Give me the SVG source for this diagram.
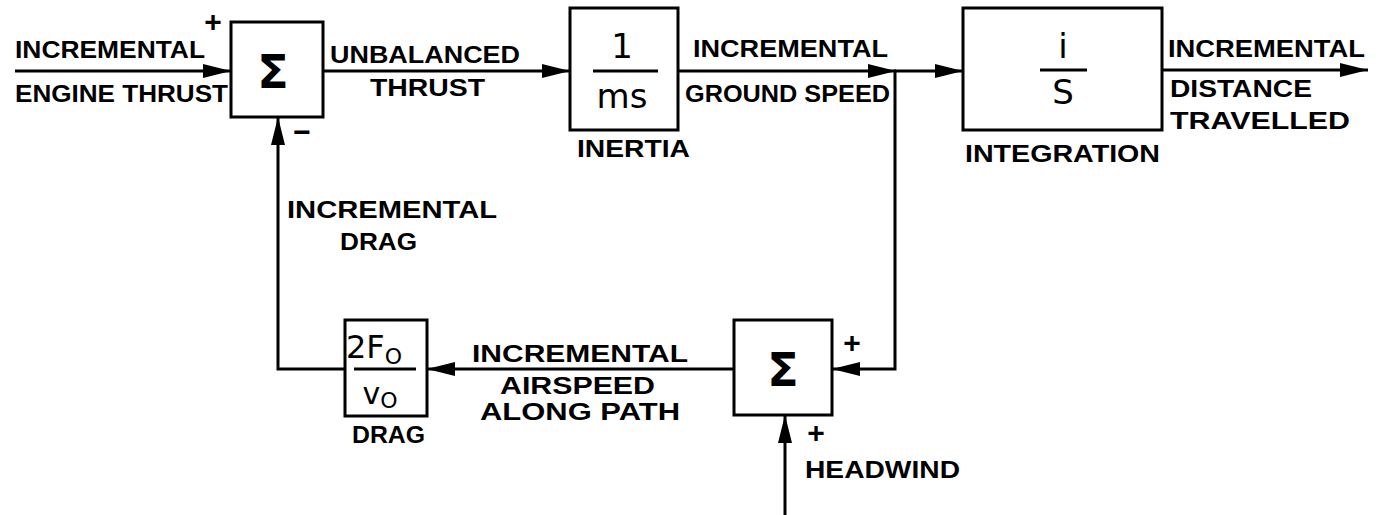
<svg xmlns="http://www.w3.org/2000/svg" width="1383" height="515" viewBox="0 0 1383 515">
<defs>
<marker id="arr" markerUnits="userSpaceOnUse" markerWidth="30" markerHeight="18" refX="28" refY="8" orient="auto">
<path d="M0,1 L28,8 L0,15 Z" fill="#000"/>
</marker>
<style>
.box{fill:#fff;stroke:#000;stroke-width:3}
.ln{fill:none;stroke:#000;stroke-width:3}
.t{font-family:"Liberation Sans","DejaVu Sans",sans-serif;font-weight:bold;font-size:24px;fill:#000}
.big{font-family:"DejaVu Sans","Liberation Sans",sans-serif;font-size:34px;fill:#000;text-anchor:middle}
.sg{font-family:"DejaVu Sans","Liberation Sans",sans-serif;font-weight:bold;font-size:46px;fill:#000;text-anchor:middle}
.pm{font-family:"Liberation Sans",sans-serif;font-weight:bold;font-size:30px;fill:#000;text-anchor:middle}
</style>
</defs>
<g id="connectors">
<line class="ln" x1="15" y1="71" x2="231" y2="71" marker-end="url(#arr)"/>
<line class="ln" x1="323" y1="71" x2="570" y2="71" marker-end="url(#arr)"/>
<line class="ln" x1="678" y1="71" x2="896" y2="71" marker-end="url(#arr)"/>
<line class="ln" x1="894" y1="71" x2="963" y2="71" marker-end="url(#arr)"/>
<line class="ln" x1="1162" y1="70" x2="1368" y2="70" marker-end="url(#arr)"/>
<polyline class="ln" points="895,71 895,369 832,369" marker-end="url(#arr)"/>
<line class="ln" x1="734" y1="369" x2="427" y2="369" marker-end="url(#arr)"/>
<polyline class="ln" points="345,369 278,369 278,117" marker-end="url(#arr)"/>
<line class="ln" x1="785" y1="515" x2="785" y2="415" marker-end="url(#arr)"/>
</g>
<g id="sum1">
<rect class="box" x="231" y="22" width="92" height="95"/>
<text class="sg" x="273" y="88">Σ</text>
<text class="pm" x="213" y="32">+</text>
<text class="pm" x="302" y="142">−</text>
</g>
<g id="inertia">
<rect class="box" x="570" y="8" width="108" height="122"/>
<text class="big" x="622" y="58">1</text>
<line class="ln" x1="593" y1="71" x2="658" y2="71"/>
<text class="big" x="622" y="108">ms</text>
<text class="t" x="577" y="157" textLength="113" lengthAdjust="spacingAndGlyphs">INERTIA</text>
</g>
<g id="integration">
<rect class="box" x="963" y="8" width="199" height="122"/>
<text class="big" x="1063" y="58">i</text>
<line class="ln" x1="1040" y1="70" x2="1087" y2="70"/>
<text class="big" x="1063" y="104">S</text>
<text class="t" x="965" y="162" textLength="195" lengthAdjust="spacingAndGlyphs">INTEGRATION</text>
</g>
<g id="drag">
<rect class="box" x="345" y="320" width="82" height="96"/>
<text class="big" x="374" y="358" style="font-size:32px">2F<tspan style="font-size:22px" dy="6">O</tspan></text>
<line class="ln" x1="354" y1="369" x2="416" y2="369"/>
<text class="big" x="380" y="404" style="font-size:30px">v<tspan style="font-size:22px" dy="4">O</tspan></text>
<text class="t" x="352" y="443" textLength="73" lengthAdjust="spacingAndGlyphs">DRAG</text>
</g>
<g id="sum2">
<rect class="box" x="734" y="320" width="98" height="95"/>
<text class="sg" x="783" y="386">Σ</text>
<text class="pm" x="852" y="353">+</text>
<text class="pm" x="816" y="443">+</text>
</g>
<g id="labels">
<text class="t" x="15" y="58" textLength="190" lengthAdjust="spacingAndGlyphs">INCREMENTAL</text>
<text class="t" x="15" y="102" textLength="213" lengthAdjust="spacingAndGlyphs">ENGINE THRUST</text>
<text class="t" x="330" y="63" textLength="190" lengthAdjust="spacingAndGlyphs">UNBALANCED</text>
<text class="t" x="370" y="96" textLength="115" lengthAdjust="spacingAndGlyphs">THRUST</text>
<text class="t" x="693" y="57" textLength="195" lengthAdjust="spacingAndGlyphs">INCREMENTAL</text>
<text class="t" x="685" y="102" textLength="205" lengthAdjust="spacingAndGlyphs">GROUND SPEED</text>
<text class="t" x="1168" y="57" textLength="197" lengthAdjust="spacingAndGlyphs">INCREMENTAL</text>
<text class="t" x="1170" y="97" textLength="142" lengthAdjust="spacingAndGlyphs">DISTANCE</text>
<text class="t" x="1170" y="129" textLength="180" lengthAdjust="spacingAndGlyphs">TRAVELLED</text>
<text class="t" x="287" y="218" textLength="210" lengthAdjust="spacingAndGlyphs">INCREMENTAL</text>
<text class="t" x="340" y="250" textLength="77" lengthAdjust="spacingAndGlyphs">DRAG</text>
<text class="t" x="472" y="362" textLength="216" lengthAdjust="spacingAndGlyphs">INCREMENTAL</text>
<text class="t" x="500" y="394" textLength="155" lengthAdjust="spacingAndGlyphs">AIRSPEED</text>
<text class="t" x="480" y="420" textLength="200" lengthAdjust="spacingAndGlyphs">ALONG PATH</text>
<text class="t" x="805" y="478" textLength="155" lengthAdjust="spacingAndGlyphs">HEADWIND</text>
</g>
</svg>
